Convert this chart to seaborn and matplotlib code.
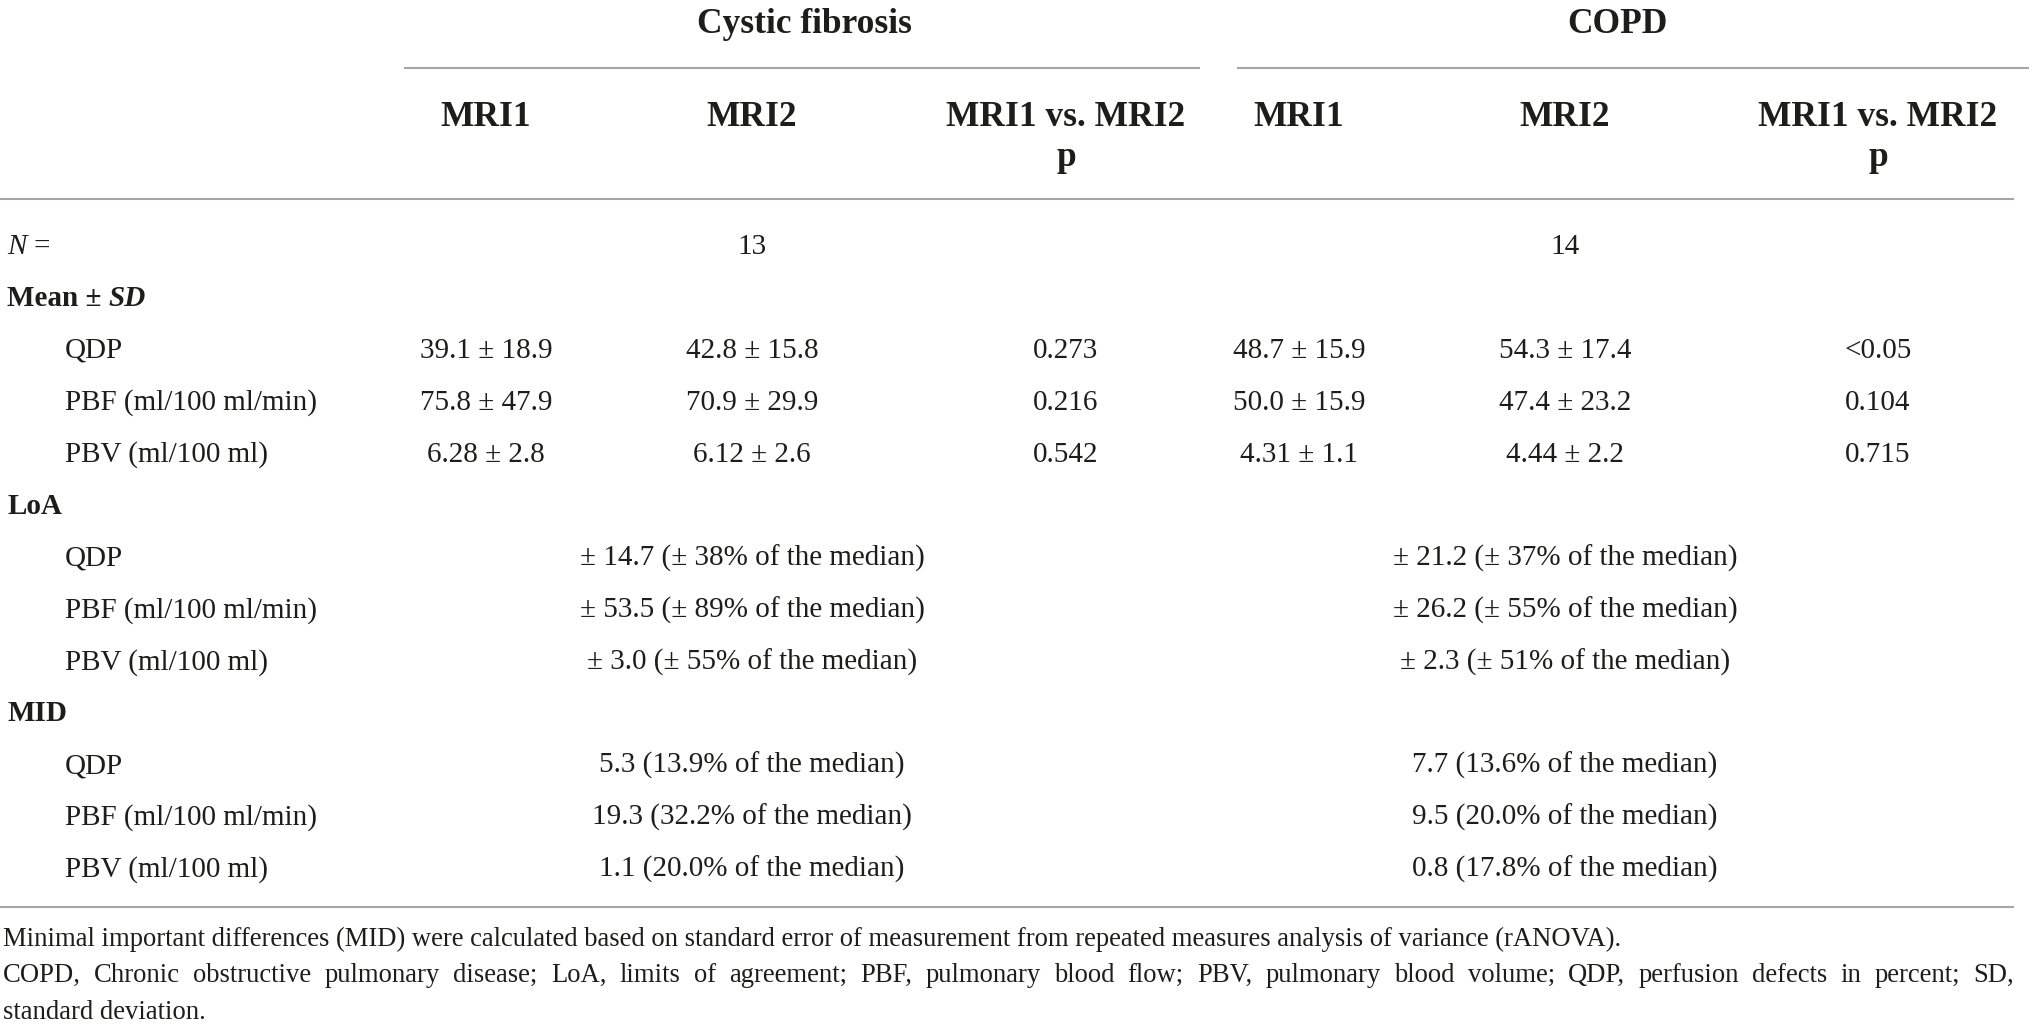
import matplotlib
matplotlib.use("Agg")
import matplotlib.pyplot as plt
import seaborn as sns

# ---------------------------------------------------------------------------
# Data
# ---------------------------------------------------------------------------

groups = ["Cystic fibrosis", "COPD"]
sub_headers = ["MRI1", "MRI2", "MRI1 vs. MRI2"]
n_values = ["13", "14"]

measures = ["QDP", "PBF (ml/100 ml/min)", "PBV (ml/100 ml)"]

cf_mri1 = ["39.1 ± 18.9", "75.8 ± 47.9", "6.28 ± 2.8"]
cf_mri2 = ["42.8 ± 15.8", "70.9 ± 29.9", "6.12 ± 2.6"]
cf_p = ["0.273", "0.216", "0.542"]
copd_mri1 = ["48.7 ± 15.9", "50.0 ± 15.9", "4.31 ± 1.1"]
copd_mri2 = ["54.3 ± 17.4", "47.4 ± 23.2", "4.44 ± 2.2"]
copd_p = ["<0.05", "0.104", "0.715"]

loa_cf = ["± 14.7 (± 38% of the median)", "± 53.5 (± 89% of the median)",
          "± 3.0 (± 55% of the median)"]
loa_copd = ["± 21.2 (± 37% of the median)", "± 26.2 (± 55% of the median)",
            "± 2.3 (± 51% of the median)"]
mid_cf = ["5.3 (13.9% of the median)", "19.3 (32.2% of the median)",
          "1.1 (20.0% of the median)"]
mid_copd = ["7.7 (13.6% of the median)", "9.5 (20.0% of the median)",
            "0.8 (17.8% of the median)"]

footnote_1 = ("Minimal important differences (MID) were calculated based on standard "
              "error of measurement from repeated measures analysis of variance (rANOVA).")
footnote_2 = ("COPD, Chronic obstructive pulmonary disease; LoA, limits of agreement; "
              "PBF, pulmonary blood flow; PBV, pulmonary blood volume; QDP, perfusion "
              "defects in percent; SD,")
footnote_3 = "standard deviation."

# ---------------------------------------------------------------------------
# Style
# ---------------------------------------------------------------------------

sns.set_theme(style="white")
plt.rcParams["font.family"] = ["Liberation Serif", "DejaVu Serif"]

W, H = 2034, 1028
INK = "#1d1d1b"
RULE = "#a6a6a6"
BODY = 21
HEAD = 25.5
NOTE = 19.2

fig = plt.figure(figsize=(W / 100, H / 100), dpi=100)
ax = fig.add_axes([0, 0, 1, 1])
ax.set_xlim(0, W)
ax.set_ylim(H, 0)
ax.axis("off")
renderer = fig.canvas.get_renderer()

cf_cols = [486, 752, 1066]
copd_cols = [1299, 1565, 1878]
group_x = [804, 1617]
label_x, indent_x = 7, 65
row_y0, row_dy = 254, 51.9


def put(x, y, s, size=BODY, ha="center", **kw):
    return ax.text(x, y, s, fontsize=size, ha=ha, va="baseline", color=INK, **kw)


def width(t):
    return t.get_window_extent(renderer=renderer).width


def runs(x, y, parts, size=BODY):
    # parts: (text, weight, style) drawn one after another with a space between
    space = size * 100 / 72 * 0.25
    for s, weight, style in parts:
        t = put(x, y, s, size=size, ha="left", fontweight=weight, fontstyle=style)
        x += width(t) + space


def justify(x0, x1, y, line, size=NOTE):
    words = line.split()
    texts = [put(0, y, w, size=size, ha="left") for w in words]
    widths = [width(t) for t in texts]
    gap = (x1 - x0 - sum(widths)) / (len(words) - 1)
    x = x0
    for t, w in zip(texts, widths):
        t.set_x(x)
        x += w + gap


# ---------------------------------------------------------------------------
# Header
# ---------------------------------------------------------------------------

for gx, g in zip(group_x, groups):
    put(gx, 33, g, size=HEAD, fontweight="bold")

ax.hlines(68, 404, 1200, color=RULE, lw=1.5)
ax.hlines(68, 1237, 2029, color=RULE, lw=1.5)

for cols in (cf_cols, copd_cols):
    for cx, h in zip(cols, sub_headers):
        put(cx, 126, h, size=HEAD, fontweight="bold")
    put(cols[2], 166, "p", size=HEAD, fontweight="bold")

ax.hlines(199, 0, 2014, color=RULE, lw=1.5)

# ---------------------------------------------------------------------------
# Body
# ---------------------------------------------------------------------------

def row_y(i):
    return row_y0 + i * row_dy


runs(label_x, row_y(0), [("N", "normal", "italic"), ("=", "normal", "normal")])
put(cf_cols[1], row_y(0), n_values[0])
put(copd_cols[1], row_y(0), n_values[1])

runs(label_x, row_y(1), [("Mean ±", "bold", "normal"), ("SD", "bold", "italic")])
for i, m in enumerate(measures):
    y = row_y(2 + i)
    put(indent_x, y, m, ha="left")
    put(cf_cols[0], y, cf_mri1[i])
    put(cf_cols[1], y, cf_mri2[i])
    put(cf_cols[2], y, cf_p[i])
    put(copd_cols[0], y, copd_mri1[i])
    put(copd_cols[1], y, copd_mri2[i])
    put(copd_cols[2], y, copd_p[i])

for start, title, left, right in ((5, "LoA", loa_cf, loa_copd),
                                  (9, "MID", mid_cf, mid_copd)):
    put(label_x, row_y(start), title, ha="left", fontweight="bold")
    for i, m in enumerate(measures):
        y = row_y(start + 1 + i)
        put(indent_x, y, m, ha="left")
        put(cf_cols[1], y, left[i])
        put(copd_cols[1], y, right[i])

ax.hlines(907, 0, 2014, color=RULE, lw=1.5)

# ---------------------------------------------------------------------------
# Footnotes
# ---------------------------------------------------------------------------

put(3, 946, footnote_1, size=NOTE, ha="left")
justify(3, 2014, 982, footnote_2)
put(3, 1019, footnote_3, size=NOTE, ha="left")

fig.savefig("out.png", dpi=100)
plt.close(fig)
